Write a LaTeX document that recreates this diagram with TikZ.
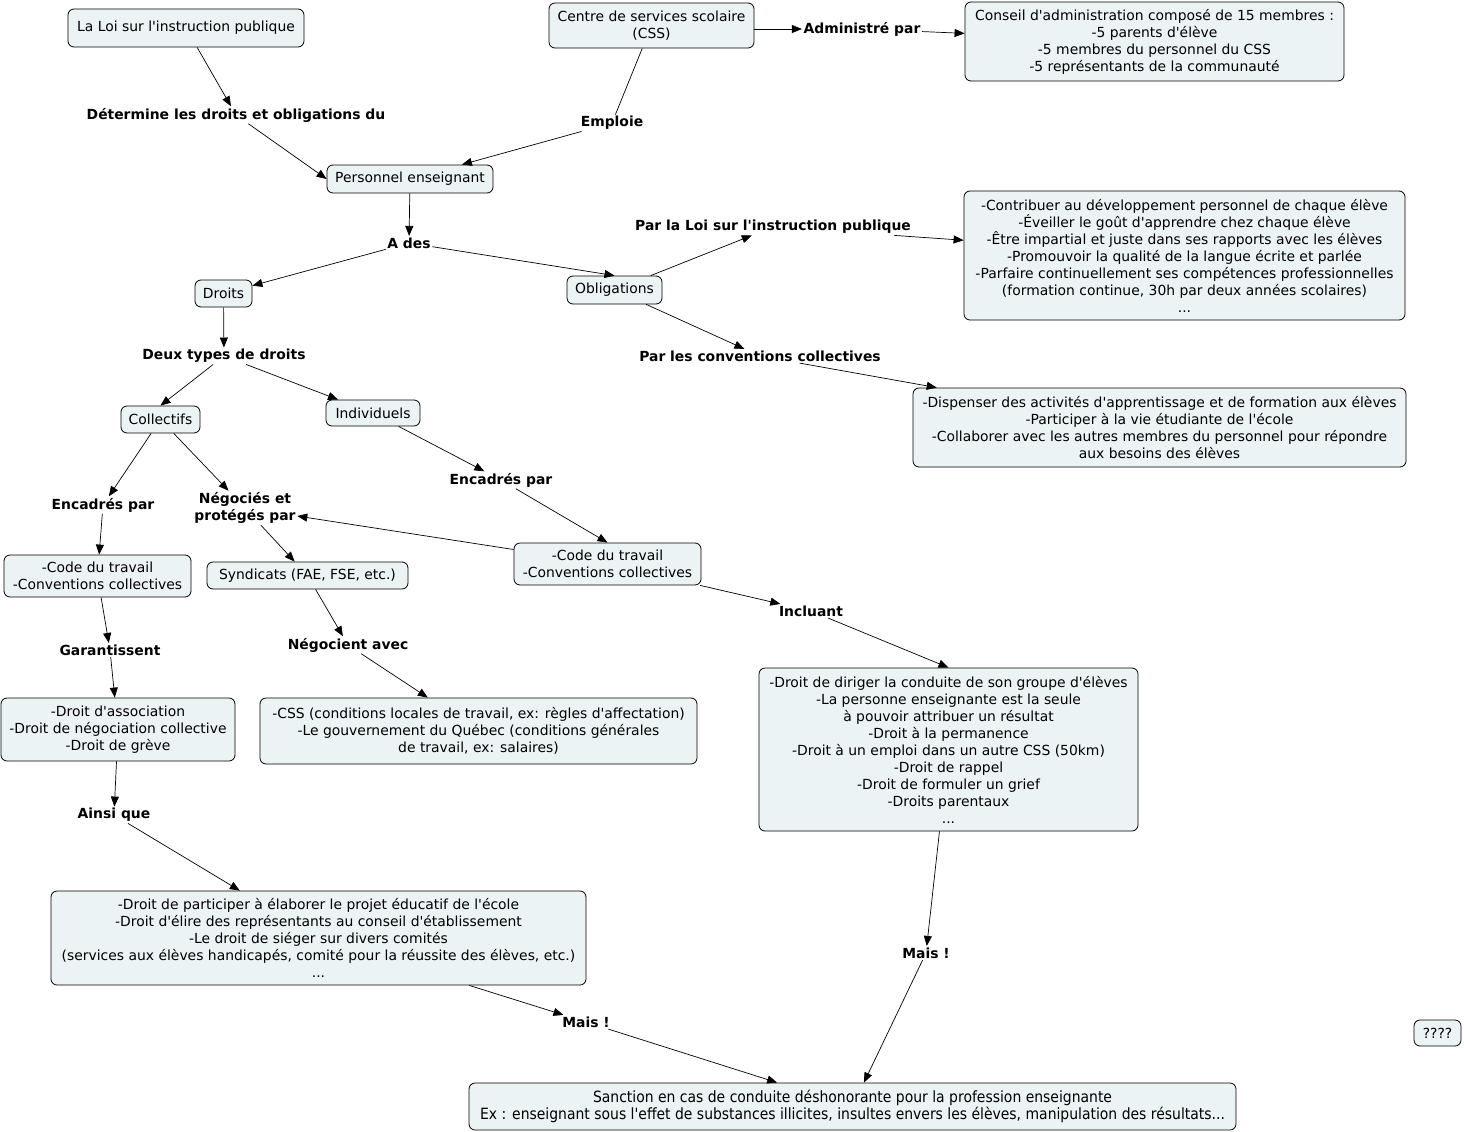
\documentclass[tikz,border=0pt]{standalone}
\usepackage{fontspec}
\setmainfont{DejaVu Sans}[Ligatures=TeXOff]
\newfontfamily\narrowfont{DejaVu Sans}[Ligatures=TeXOff,FakeStretch=0.9]
\usetikzlibrary{arrows.meta}
\definecolor{boxfill}{HTML}{EBF3F5}
\tikzset{
  box/.style={draw=black, line width=0.8pt, rounded corners=6pt, fill=boxfill, align=center,
    inner sep=2pt, font=\fontsize{13.9}{17}\selectfont},
  lbl/.style={align=center, inner sep=1.5pt, font=\fontsize{13.9}{17}\selectfont\bfseries},
  arr/.style={line width=0.7pt, -{Triangle[length=10pt,width=8pt]}},
  plain/.style={line width=0.7pt},
}
\begin{document}
\begin{tikzpicture}[x=1pt,y=-1pt]
\path[use as bounding box, fill=white] (0,0) rectangle (1464,1132);

% concept boxes
\node[box, minimum width=236pt, minimum height=38pt] (loi) at (186,28) {La Loi sur l'instruction publique};
\node[box, minimum width=205pt, minimum height=45pt] (css) at (651.5,25.5) {Centre de services scolaire\\(CSS)};
\node[box, minimum width=379pt, minimum height=79pt] (conseil) at (1154.5,41.5) {Conseil d'administration composé de 15 membres :\\-5 parents d'élève\\-5 membres du personnel du CSS\\-5 représentants de la communauté};
\node[box, minimum width=166pt, minimum height=28pt] (pe) at (410,179) {Personnel enseignant};
\node[box, minimum width=57pt, minimum height=27pt] (droits) at (223.5,293.5) {Droits};
\node[box, minimum width=95pt, minimum height=28pt] (oblig) at (614.5,290) {Obligations};
\node[box, minimum width=441pt, minimum height=129pt] (loipub) at (1184.5,255.5) {-Contribuer au développement personnel de chaque élève\\-Éveiller le goût d'apprendre chez chaque élève\\-Être impartial et juste dans ses rapports avec les élèves\\-Promouvoir la qualité de la langue écrite et parlée\\-Parfaire continuellement ses compétences professionnelles\\(formation continue, 30h par deux années scolaires)\\...};
\node[box, minimum width=493pt, minimum height=79pt] (convbox) at (1159.5,427.5) {-Dispenser des activités d'apprentissage et de formation aux élèves\\-Participer à la vie étudiante de l'école\\-Collaborer avec les autres membres du personnel pour répondre\\aux besoins des élèves};
\node[box, minimum width=79pt, minimum height=27pt] (coll) at (160.5,419.5) {Collectifs};
\node[box, minimum width=94pt, minimum height=26pt] (indiv) at (373,413) {Individuels};
\node[box, minimum width=187pt, minimum height=42pt] (code1) at (97.5,576) {-Code du travail\\-Conventions collectives};
\node[box, minimum width=201pt, minimum height=27pt] (synd) at (307.5,575.5) {Syndicats (FAE, FSE, etc.)};
\node[box, minimum width=187pt, minimum height=42pt] (code2) at (607.5,564) {-Code du travail\\-Conventions collectives};
\node[box, minimum width=234pt, minimum height=63pt] (assoc) at (118,729.5) {-Droit d'association\\-Droit de négociation collective\\-Droit de grève};
\node[box, minimum width=437pt, minimum height=66pt] (cssgouv) at (478.5,731) {-CSS (conditions locales de travail, ex: règles d'affectation)\\-Le gouvernement du Québec (conditions générales\\de travail, ex: salaires)};
\node[box, minimum width=379pt, minimum height=163pt] (dir) at (948.5,749.5) {-Droit de diriger la conduite de son groupe d'élèves\\-La personne enseignante est la seule\\à pouvoir attribuer un résultat\\-Droit à la permanence\\-Droit à un emploi dans un autre CSS (50km)\\-Droit de rappel\\-Droit de formuler un grief\\-Droits parentaux\\...};
\node[box, minimum width=535pt, minimum height=94pt] (dpart) at (318.5,938) {-Droit de participer à élaborer le projet éducatif de l'école\\-Droit d'élire des représentants au conseil d'établissement\\-Le droit de siéger sur divers comités\\(services aux élèves handicapés, comité pour la réussite des élèves, etc.)\\...};
\node[box, minimum width=767pt, minimum height=47pt, font=\fontsize{15.5}{17}\selectfont\narrowfont] (sanction) at (852.5,1106.5) {Sanction en cas de conduite déshonorante pour la profession enseignante\\Ex : enseignant sous l'effet de substances illicites, insultes envers les élèves, manipulation des résultats...};
\node[box, minimum width=47pt, minimum height=26pt] (q) at (1437.5,1033) {????};

% linking phrases
\node[lbl] (l1) at (236,115) {Détermine les droits et obligations du};
\node[lbl] (admin) at (862,29) {Administré par};
\node[lbl] (emploie) at (612,123) {Emploie};
\node[lbl] (ades) at (409,243) {A des};
\node[lbl] (parloi) at (773,227) {Par la Loi sur l'instruction publique};
\node[lbl] (parconv) at (760,356) {Par les conventions collectives};
\node[lbl] (deux) at (224,356) {Deux types de droits};
\node[lbl] (enc1) at (103,505) {Encadrés par};
\node[lbl] (neg) at (245,508) {Négociés et\\protégés par};
\node[lbl] (enc2) at (501,480) {Encadrés par};
\node[lbl] (gar) at (110,650) {Garantissent};
\node[lbl] (negav) at (348,645) {Négocient avec};
\node[lbl] (incl) at (811,611) {Incluant};
\node[lbl] (ainsi) at (114,815) {Ainsi que};
\node[lbl] (mais1) at (926,953) {Mais !};
\node[lbl] (mais2) at (586,1022) {Mais !};

% connectors
\draw[arr] (loi) -- (l1);
\draw[arr] (l1) -- (pe.west);
\draw[plain] (css) -- (emploie);
\draw[arr] (emploie) -- (pe);
\draw[arr] (css.east |- admin.west) -- (admin.west);
\draw[arr] (admin) -- (conseil);
\draw[arr] (pe) -- (ades);
\draw[arr] (ades) -- (droits);
\draw[arr] (ades) -- (oblig.north);
\draw[arr] (oblig) -- (parloi);
\draw[arr] (parloi) -- (loipub);
\draw[arr] (oblig) -- (parconv);
\draw[arr] (parconv) -- (convbox);
\draw[arr] (droits) -- (deux);
\draw[arr] (deux) -- (coll.north);
\draw[arr] (deux) -- (indiv);
\draw[arr] (coll) -- (enc1);
\draw[arr] (enc1) -- (code1);
\draw[arr] (coll) -- (neg);
\draw[arr] (neg) -- (synd);
\draw[arr] (code2) -- (neg);
\draw[arr] (indiv) -- (enc2);
\draw[arr] (enc2) -- (code2.north);
\draw[arr] (code1) -- (gar);
\draw[arr] (gar) -- (assoc);
\draw[arr] (synd) -- (negav);
\draw[arr] (negav) -- (cssgouv);
\draw[arr] (code2) -- (incl);
\draw[arr] (incl) -- (dir.north);
\draw[arr] (assoc) -- (ainsi);
\draw[arr] (ainsi) -- (dpart);
\draw[arr] (dir) -- (mais1);
\draw[arr] (mais1) -- (sanction);
\draw[arr] (dpart) -- (mais2);
\draw[arr] (mais2) -- (sanction);
\end{tikzpicture}
\end{document}
